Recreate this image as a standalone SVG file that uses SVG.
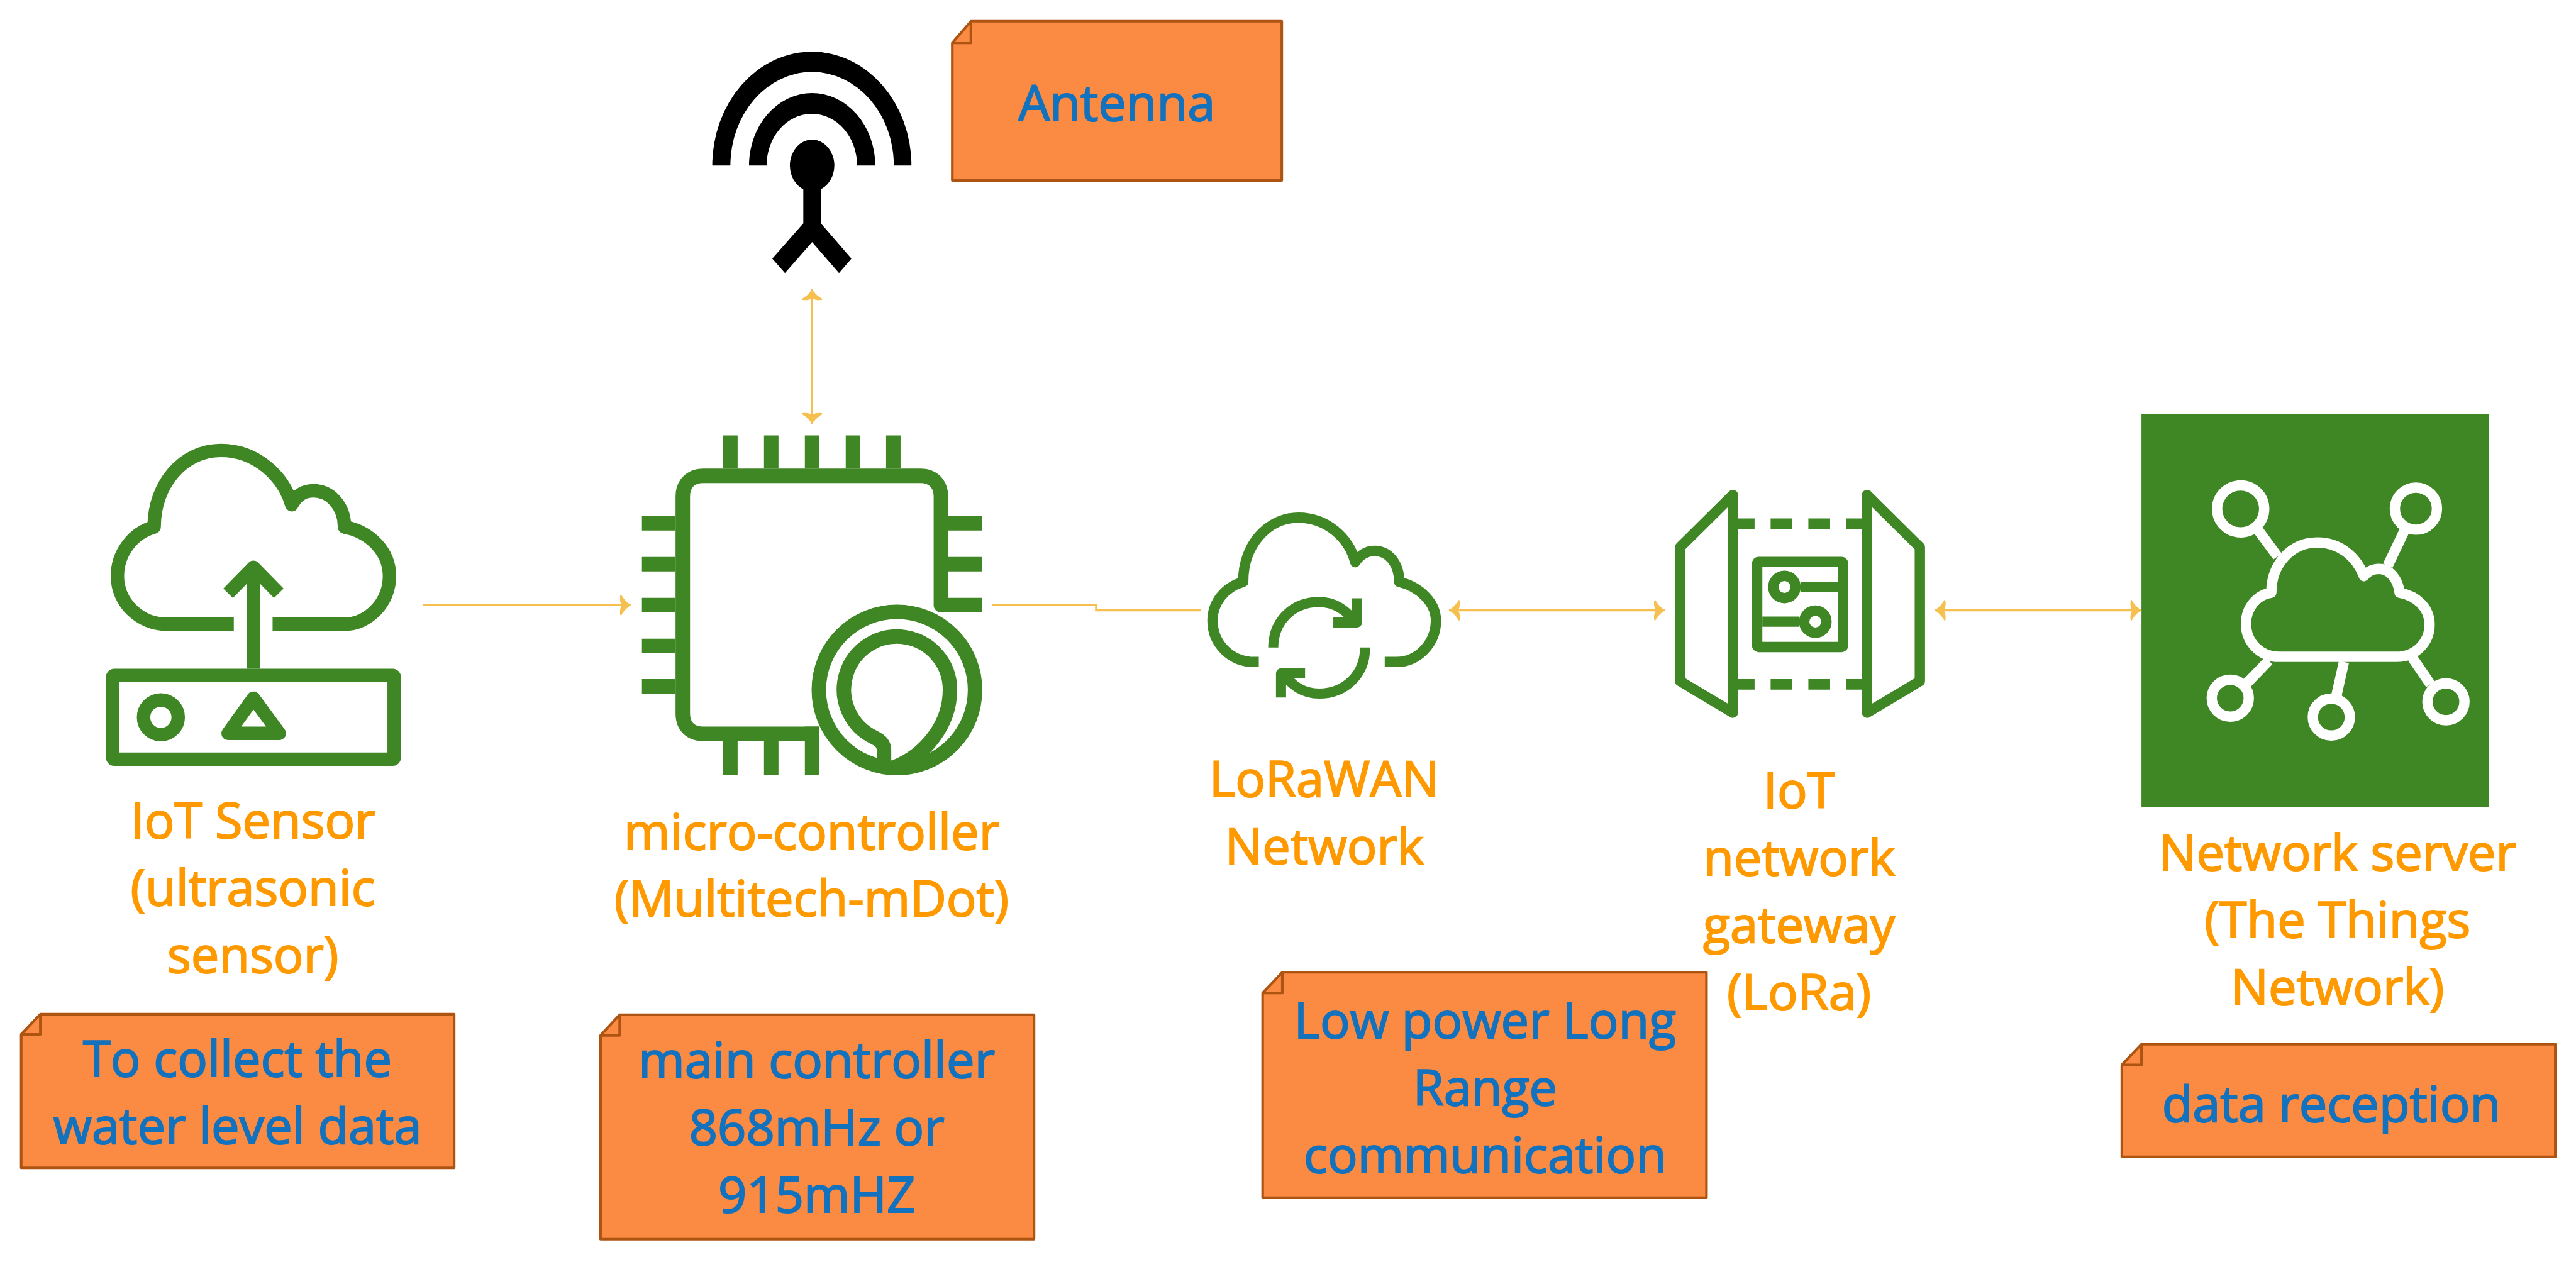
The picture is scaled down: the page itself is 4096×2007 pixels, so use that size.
<svg xmlns="http://www.w3.org/2000/svg" width="4096" height="2007" viewBox="0 0 4096 2007">
<style>
.g{fill:none;stroke:#3f8624;stroke-width:26;stroke-linejoin:round}
.w{fill:none;stroke:#fff;stroke-width:20;stroke-linejoin:round}
.gf{fill:#3f8624}
.c{fill:none;stroke:#f5c04f;stroke-width:4}
.n{fill:#fb8a42;stroke:#ae5413;stroke-width:5;stroke-linejoin:round}
.t{font-family:"Open Sans","Noto Sans",sans-serif;font-size:96.500px;text-anchor:middle;stroke-width:2.500}
.o{fill:#ff9900;stroke:#ff9900}
.b{fill:#1272be;stroke:#1272be}
</style>
<defs>
<marker id="a" markerUnits="userSpaceOnUse" markerWidth="30" markerHeight="50" viewBox="-26 -25 30 50" refX="0" refY="0" orient="auto-start-reverse">
<path d="M0 0C-7-4-14-11-19-20L-21-19C-22-11-21-4-17 0C-21 4-22 11-21 19L-19 20C-14 11-7 4 0 0Z" fill="#f5c04f"/>
</marker>
</defs>
<g transform="scale(.82249)">
<g id="connectors">
<path class="c" d="M818 1170H1220" marker-end="url(#a)"/>
<path class="c" d="M1570 559V820" marker-start="url(#a)" marker-end="url(#a)"/>
<path class="c" d="M1918 1170H2119V1180H2321"/>
<path class="c" d="M2801 1180H3219" marker-start="url(#a)" marker-end="url(#a)"/>
<path class="c" d="M3740 1180H4140" marker-start="url(#a)" marker-end="url(#a)"/>
</g>
<g id="iot-sensor">
<path class="g" d="M452 1207H322C270 1207 227 1165 227 1114C227 1068 258 1030 298 1019C298 935 355 871 427 871C495 871 548 920 564 976C575 955 590 949 606 949C640 949 666 980 666 1019C715 1028 753 1066 753 1114C753 1165 712 1207 666 1207H527"/>
<rect class="g" x="218" y="1306" width="544" height="162" rx="3"/>
<circle class="g" cx="311" cy="1387" r="33.5"/>
<path class="g" d="M490 1350L441 1418H540Z"/>
<path class="g" d="M490 1293V1100M441 1147L490 1097L539 1147"/>
<text class="t o" x="489" y="1621">IoT Sensor</text>
<text class="t o" x="489" y="1751">(ultrasonic</text>
<text class="t o" x="489" y="1881">sensor)</text>
</g>
<g id="micro-controller">
<path class="g" style="stroke-width:28" d="M1584 1419H1360C1335 1419 1320 1404 1320 1380V960C1320 936 1335 920 1360 920H1780C1804 920 1819 936 1819 960V1170H1898"/>
<path class="gf" d="M1398 842h28v64h-28zM1477 842h28v64h-28zM1556 842h28v64h-28zM1635 842h28v64h-28zM1713 842h28v64h-28zM1241 998h65v28h-65zM1241 1077h65v28h-65zM1241 1156h65v28h-65zM1241 1235h65v28h-65zM1241 1313h65v28h-65zM1833 998h65v28h-65zM1833 1077h65v28h-65zM1398 1433h28v65h-28zM1477 1433h28v65h-28zM1556 1405h28v93h-28z"/>
<circle cx="1734" cy="1334" r="151" fill="#fff" stroke="#3f8624" stroke-width="28"/>
<path class="g" style="stroke-width:28" d="M1709 1480V1450C1709 1440 1703 1432 1690 1426A102.500 102.500 0 1 1 1836.500 1334C1836.500 1400 1790 1460 1728 1484"/>
<text class="t o" x="1569" y="1642">micro-controller</text>
<text class="t o" x="1569" y="1772">(Multitech-mDot)</text>
</g>
<g id="antenna">
<path d="M1377 320A192.500 220 0 0 1 1762 320H1728A158 181 0 0 0 1412 320ZM1448 320A122 140 0 0 1 1692 320H1657A87.500 100 0 0 0 1482 320Z"/>
<ellipse cx="1570" cy="320" rx="43" ry="50"/>
<path d="M1553 360V432L1493 500L1517.500 528L1570 468L1622 528L1646 500L1587 432V360Z"/>
</g>
<g id="lorawan-network">
<path class="g" style="stroke-width:20" d="M2433.500 1280H2425C2380 1280 2344 1245 2344 1200C2344 1165 2368 1135 2403.500 1125C2403 1055 2450 1001 2510 1001C2565 1001 2608 1040 2620 1087C2628 1074 2642 1065 2657 1065C2685 1065 2705 1090 2705 1125C2745 1135 2776 1165 2776 1200C2776 1245 2740 1280 2700 1280H2677"/>
<path class="g" style="stroke-width:19.500" d="M2461.500 1252C2461.500 1200 2500 1164 2550 1164C2580 1164 2605 1180 2620 1205M2623.500 1157V1203.500H2577.600M2639 1252C2639 1305 2600 1341 2550 1341C2520 1341 2495 1325 2480 1300M2476.500 1348.600V1302H2523"/>
<text class="t o" x="2560" y="1540">LoRaWAN</text>
<text class="t o" x="2560" y="1670">Network</text>
</g>
<g id="iot-gateway">
<g class="g" style="stroke-width:20">
<path d="M3350 957L3248 1058V1317L3350 1378Z"/>
<path d="M3609.500 957L3711.500 1058V1317L3609.500 1378Z"/>
<rect x="3397" y="1086.500" width="166" height="164.500" rx="3"/>
<circle cx="3449.700" cy="1135" r="21.500"/>
<circle cx="3509.500" cy="1202" r="21.500"/>
<path d="M3481 1135H3553M3407 1202H3478"/>
</g>
<path class="gf" d="M3360 1002.500h32v20.500h-32zM3423 1002.500h42v20.500h-42zM3496 1002.500h42v20.500h-42zM3569 1002.500h30v20.500h-30zM3360 1313h32v20.500h-32zM3423 1313h42v20.500h-42zM3496 1313h42v20.500h-42zM3569 1313h30v20.500h-30z"/>
<text class="t o" x="3478" y="1562">IoT</text>
<text class="t o" x="3478" y="1692">network</text>
<text class="t o" x="3478" y="1822">gateway</text>
<text class="t o" x="3478" y="1952">(LoRa)</text>
</g>
<g id="network-server">
<rect class="gf" x="4140" y="800" width="672" height="760"/>
<g class="w">
<circle cx="4331.700" cy="984" r="45.500"/>
<circle cx="4670.500" cy="983.500" r="40.700"/>
<circle cx="4311.600" cy="1350" r="35.800"/>
<circle cx="4507" cy="1386.500" r="35.800"/>
<circle cx="4728.600" cy="1357" r="35.800"/>
<path d="M4365.600 1025L4403 1076M4647.700 1027.400L4616 1094M4386 1277.400L4343.800 1321M4531.400 1280L4517 1344M4663.700 1272L4698.600 1323"/>
<path d="M4405 1270H4633C4670 1270 4697 1242 4697 1208C4697 1175 4672 1152 4639 1146C4636 1120 4620 1100 4599 1100C4588 1100 4577 1105 4570 1114C4555 1075 4522 1049 4480 1049C4430 1049 4391 1090 4391 1146C4363 1150 4342 1175 4342 1206C4342 1242 4370 1270 4405 1270Z"/>
</g>
<text class="t o" x="4519" y="1683">Network server</text>
<text class="t o" x="4519" y="1813">(The Things</text>
<text class="t o" x="4519" y="1943">Network)</text>
</g>
<g id="note-antenna">
<path class="n" d="M1877 41H2478V349H1841V83ZM1877 41V83H1841"/>
<text class="t b" x="2159" y="233">Antenna</text>
</g>
<g id="note-sensor">
<path class="n" d="M78 1961H878V2258H41V2000ZM78 1961V2000H41"/>
<text class="t b" x="459" y="2082">To collect the</text>
<text class="t b" x="459" y="2211">water level data</text>
</g>
<g id="note-controller">
<path class="n" d="M1198 1962H1999V2396H1161V2002ZM1198 1962V2002H1161"/>
<text class="t b" x="1579" y="2084">main controller</text>
<text class="t b" x="1579" y="2214">868mHz or</text>
<text class="t b" x="1579" y="2344">915mHZ</text>
</g>
<g id="note-lora">
<path class="n" d="M2479 1880H3299V2316H2441V1920ZM2479 1880V1920H2441"/>
<text class="t b" x="2871" y="2007">Low power Long</text>
<text class="t b" x="2871" y="2137">Range</text>
<text class="t b" x="2871" y="2267">communication</text>
</g>
<g id="note-server">
<path class="n" d="M4140 2019H4940V2237H4102V2059ZM4140 2019V2059H4102"/>
<text class="t b" x="4507" y="2169">data reception</text>
</g>
</g>
</svg>
